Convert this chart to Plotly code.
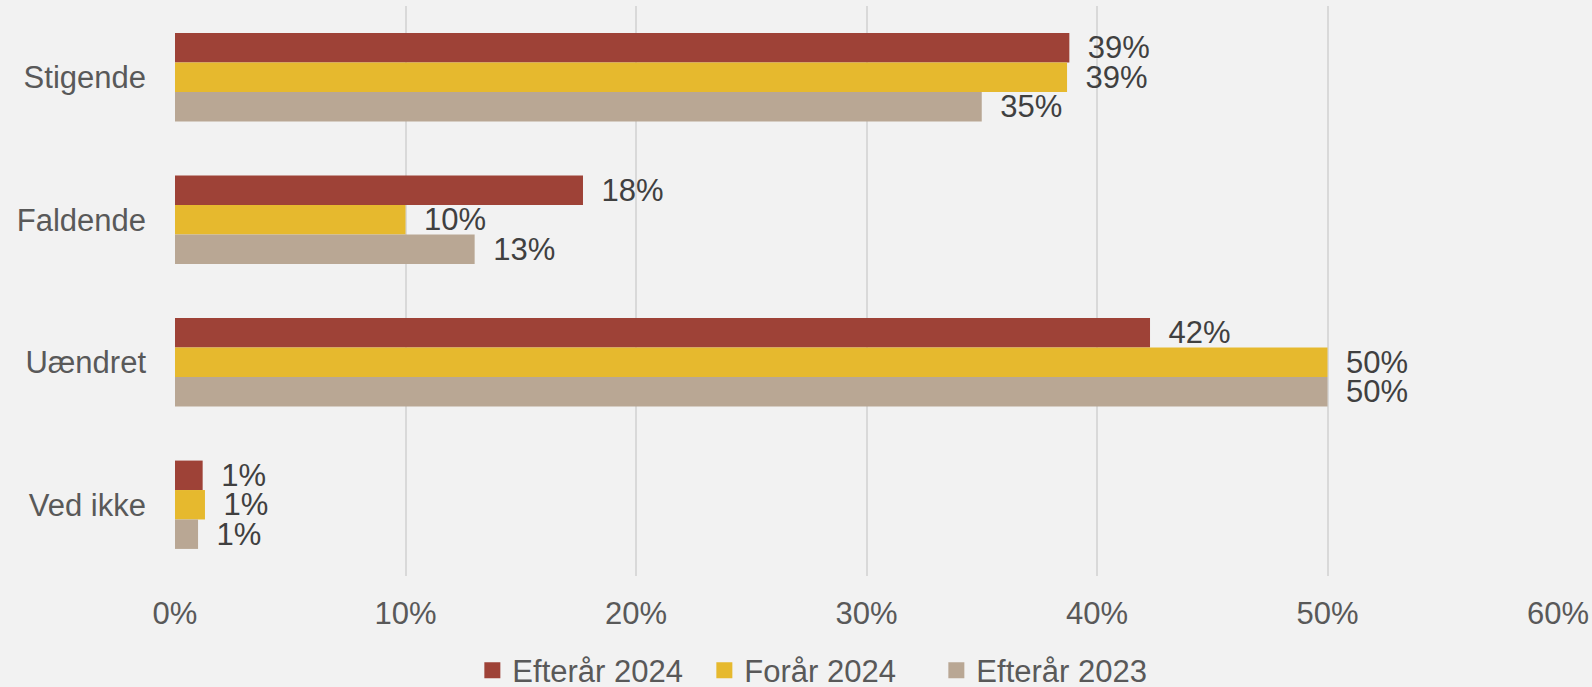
import plotly.graph_objects as go

categories = ["Stigende", "Faldende", "Uændret", "Ved ikke"]
series_names = ["Efterår 2024", "Forår 2024", "Efterår 2023"]
efteraar_2024 = [38.8, 17.7, 42.3, 1.2]
foraar_2024 = [38.7, 10.0, 50.0, 1.3]
efteraar_2023 = [35.0, 13.0, 50.0, 1.0]
tick_values = [0, 10, 20, 30, 40, 50, 60]
tick_labels = ["0%", "10%", "20%", "30%", "40%", "50%", "60%"]

colors = ["#9E4237", "#E6B92E", "#B9A794"]
FONT = "Liberation Sans, Arial, sans-serif"

fig = go.Figure()
for name, vals, col in zip(series_names, [efteraar_2024, foraar_2024, efteraar_2023], colors):
    fig.add_trace(go.Bar(
        y=categories, x=vals, name=name, orientation="h",
        marker=dict(color=col, line=dict(width=0)),
        texttemplate="\u2002%{x:.0f}%", textposition="outside",
        constraintext="none",
        textfont=dict(family=FONT, size=31, color="#404040"),
        cliponaxis=False, showlegend=False, legendgroup=name,
    ))
# legend entries with larger square swatches
for name, col in zip(series_names, colors):
    fig.add_trace(go.Scatter(
        x=[None], y=[None], mode="markers", name=name, legendgroup=name,
        marker=dict(symbol="square", size=17, color=col), showlegend=True,
    ))

fig.update_layout(
    width=1592, height=687,
    paper_bgcolor="#F2F2F2", plot_bgcolor="#F2F2F2",
    margin=dict(l=175, r=34, t=6, b=111, autoexpand=False),
    barmode="group", bargap=0.38, bargroupgap=0,
    font=dict(family=FONT, size=31, color="#595959"),
    showlegend=True,
    legend=dict(orientation="h", x=0.215, xanchor="left", y=-0.166, yanchor="middle",
                font=dict(family=FONT, size=31, color="#595959"),
                itemsizing="trace", entrywidth=187, entrywidthmode="pixels",
                bgcolor="rgba(0,0,0,0)"),
)
fig.update_xaxes(range=[0, 60], tickvals=tick_values, ticktext=tick_labels,
                 showgrid=True, gridcolor="#D9D9D9", gridwidth=1.5,
                 zeroline=False, showline=False, ticks="", automargin=False,
                 ticklabelstandoff=16,
                 tickfont=dict(family=FONT, size=31, color="#595959"))
fig.update_yaxes(autorange="reversed", showgrid=False, showline=False, ticks="",
                 automargin=False, ticklabelstandoff=28,
                 tickfont=dict(family=FONT, size=31, color="#595959"))

fig.write_html("out.html", config={"displayModeBar": False},
               post_script="document.body.style.margin='0';document.body.style.background='#F2F2F2';")
